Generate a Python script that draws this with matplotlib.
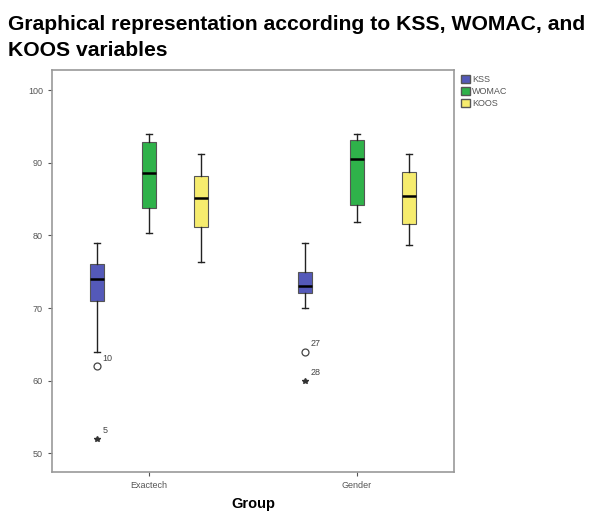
import numpy as np
import matplotlib.pyplot as plt
from matplotlib.patches import Patch

# Dados
grupos = ["Exactech", "Gender"]
variaveis = ["KSS", "WOMAC", "KOOS"]
cores = ["#5459b9", "#2fb24a", "#f6ec6e"]

# [whisker baixo, Q1, mediana, Q3, whisker alto] por grupo
kss = [[64, 71, 74, 76, 79], [70, 72, 73, 75, 79]]
womac = [[80.4, 83.8, 88.6, 92.9, 94], [81.9, 84.2, 90.6, 93.2, 94]]
koos = [[76.3, 81.1, 85.2, 88.2, 91.2], [78.7, 81.6, 85.5, 88.7, 91.2]]

# outliers KSS (valor, caso)
kss_circ = [[(62, "10")], [(64, "27")]]
kss_star = [[(52, "5")], [(60, "28")]]

series = [kss, womac, koos]
offsets = [-0.25, 0, 0.25]

plt.rcParams['font.family'] = ['Liberation Sans', 'DejaVu Sans']
fig = plt.figure(figsize=(5.98, 5.13), dpi=100)
ax = fig.add_axes([52 / 598, 1 - 472 / 513, 402 / 598, 402 / 513])

for k, serie in enumerate(series):
    stats = []
    pos = []
    for g in range(len(grupos)):
        lo, q1, med, q3, hi = serie[g]
        stats.append({"whislo": lo, "q1": q1, "med": med, "q3": q3,
                      "whishi": hi, "fliers": []})
        pos.append(g + offsets[k])
    ax.bxp(stats, positions=pos, widths=0.068, patch_artist=True,
           showfliers=False,
           boxprops=dict(facecolor=cores[k], edgecolor="#555555", linewidth=0.8),
           medianprops=dict(color="black", linewidth=1.8),
           whiskerprops=dict(color="#222222", linewidth=1.0),
           capprops=dict(color="#222222", linewidth=1.0),
           capwidths=0.03)

for g in range(len(grupos)):
    x = g + offsets[0]
    for v, lab in kss_circ[g]:
        ax.plot(x, v, marker="o", mfc="white", mec="#444444", ms=5, mew=0.9)
        ax.annotate(lab, (x, v), xytext=(4, 4), textcoords="offset points",
                    fontsize=6.5, color="#444444")
    for v, lab in kss_star[g]:
        ax.plot(x, v, marker="*", color="#333333", ms=4)
        ax.annotate(lab, (x, v), xytext=(4, 4), textcoords="offset points",
                    fontsize=6.5, color="#444444")

ax.set_xlim(-0.466, 1.466)
ax.set_ylim(47.4, 102.8)
ax.set_yticks([50, 60, 70, 80, 90, 100])
ax.set_xticks(range(len(grupos)))
ax.set_xticklabels(grupos)
ax.tick_params(labelsize=6.5, colors="#555555", length=3, width=0.8)
for s in ax.spines.values():
    s.set_color("#999999")
    s.set_linewidth(1.2)

ax.set_xlabel("Group", fontsize=10.5, fontweight="bold", labelpad=5)

handles = [Patch(facecolor=c, edgecolor="#555555", label=v)
           for c, v in zip(cores, variaveis)]
fig.legend(handles=handles, loc="upper left", bbox_to_anchor=(456 / 598, 1 - 70 / 513),
           frameon=False, fontsize=6.5, handlelength=1.0, handleheight=1.0,
           handletextpad=0.3, labelspacing=0.35, borderpad=0, labelcolor="#555555")

fig.text(8 / 598, 1 - 15 / 513,
         "Graphical representation according to KSS, WOMAC, and\nKOOS variables",
         fontsize=15.2, fontweight="bold", va="top", ha="left", linespacing=1.5)

fig.savefig("out.png", dpi=100)
